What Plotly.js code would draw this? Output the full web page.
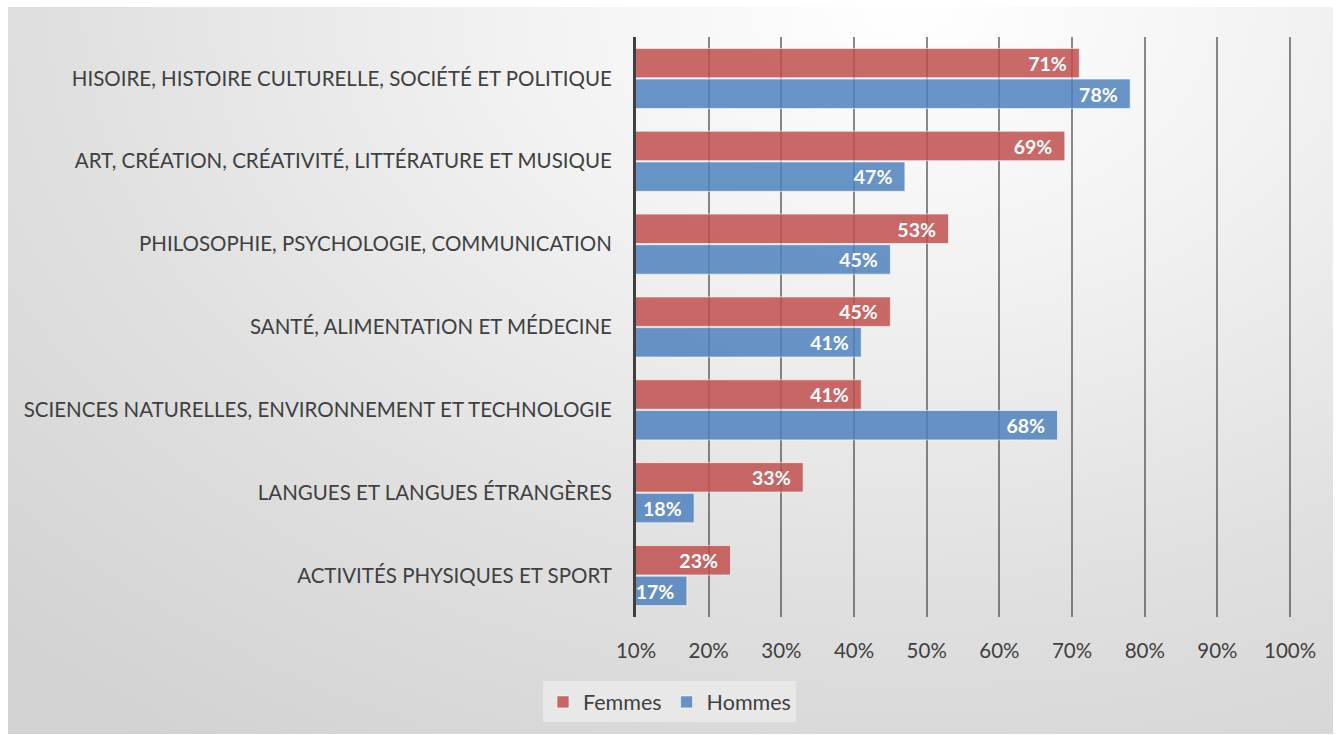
<!DOCTYPE html>
<html>
<head>
<meta charset="utf-8">
<script src="https://cdn.plot.ly/plotly-3.0.1.min.js"></script>
<style>
  html, body { margin:0; padding:0; background:#ffffff; }
  #bg { position:absolute; left:8px; top:7px; width:1325px; height:727px;
        background: radial-gradient(ellipse 1300px 900px at 900px 0px, #ffffff 0%, #f2f2f2 30%, #e0e0e0 65%, #d2d2d2 100%); }
  #chart { position:absolute; left:0; top:0; width:1339px; height:735px; }
</style>
</head>
<body>
<div id="bg"></div>
<div id="chart"></div>
<script>
const categories = [
  "HISOIRE, HISTOIRE CULTURELLE, SOCIÉTÉ ET POLITIQUE",
  "ART, CRÉATION, CRÉATIVITÉ, LITTÉRATURE ET MUSIQUE",
  "PHILOSOPHIE, PSYCHOLOGIE, COMMUNICATION",
  "SANTÉ, ALIMENTATION ET MÉDECINE",
  "SCIENCES NATURELLES, ENVIRONNEMENT ET TECHNOLOGIE",
  "LANGUES ET LANGUES ÉTRANGÈRES",
  "ACTIVITÉS PHYSIQUES ET SPORT"
];
const femmes = [0.71, 0.69, 0.53, 0.45, 0.41, 0.33, 0.23];
const hommes = [0.78, 0.47, 0.45, 0.41, 0.68, 0.18, 0.17];
const tickValues = [0.1, 0.2, 0.3, 0.4, 0.5, 0.6, 0.7, 0.8, 0.9, 1.0];

const labelFont = {family: "Lato, 'Open Sans', sans-serif", size: 20, color: "#ffffff", weight: "bold"};

const traces = [
  {
    type: "bar", orientation: "h", name: "Femmes",
    y: categories, x: femmes,
    marker: {color: "rgba(192,80,77,0.85)", line: {color: "rgba(255,255,255,0.6)", width: 1}},
    texttemplate: "<b>%{x:.0%}</b>\u00a0\u00a0", textposition: "inside", insidetextanchor: "end",
    textfont: labelFont, cliponaxis: true, hoverinfo: "skip"
  },
  {
    type: "bar", orientation: "h", name: "Hommes",
    y: categories, x: hommes,
    marker: {color: "rgba(79,129,189,0.85)", line: {color: "rgba(255,255,255,0.6)", width: 1}},
    texttemplate: "<b>%{x:.0%}</b>\u00a0\u00a0", textposition: "inside", insidetextanchor: "end",
    textfont: labelFont, cliponaxis: true, hoverinfo: "skip"
  }
];

const layout = {
  width: 1339, height: 735,
  paper_bgcolor: "rgba(0,0,0,0)", plot_bgcolor: "rgba(0,0,0,0)",
  margin: {l: 636, r: 46, t: 37, b: 118},
  barmode: "group", bargap: 0.26, bargroupgap: 0.04,
  font: {family: "Lato, 'Open Sans', sans-serif", size: 20, color: "#404040"},
  xaxis: {
    range: [0.1, 1.004], tickvals: tickValues, tickformat: ".0%",
    showgrid: true, gridcolor: "rgba(60,60,60,0.6)", gridwidth: 2,
    zeroline: false, showline: false, ticks: "",
    ticklabelstandoff: 19,
    tickfont: {size: 20.5, color: "#404040"}
  },
  yaxis: {
    autorange: "reversed", showgrid: false, zeroline: false,
    showline: true, linecolor: "#404040", linewidth: 3,
    ticks: "", ticklabelstandoff: 17,
    tickfont: {size: 20.5, color: "#404040"}
  },
  legend: {
    orientation: "h", x: 0.5, xref: "container", xanchor: "center",
    y: 0.045, yref: "container", yanchor: "middle",
    bgcolor: "#e8e8e8", font: {size: 21.5, color: "#404040"},
    itemwidth: 30, traceorder: "normal", borderwidth: 0
  },
  showlegend: true
};

Plotly.newPlot("chart", traces, layout, {displayModeBar: false, staticPlot: true});
</script>
</body>
</html>
